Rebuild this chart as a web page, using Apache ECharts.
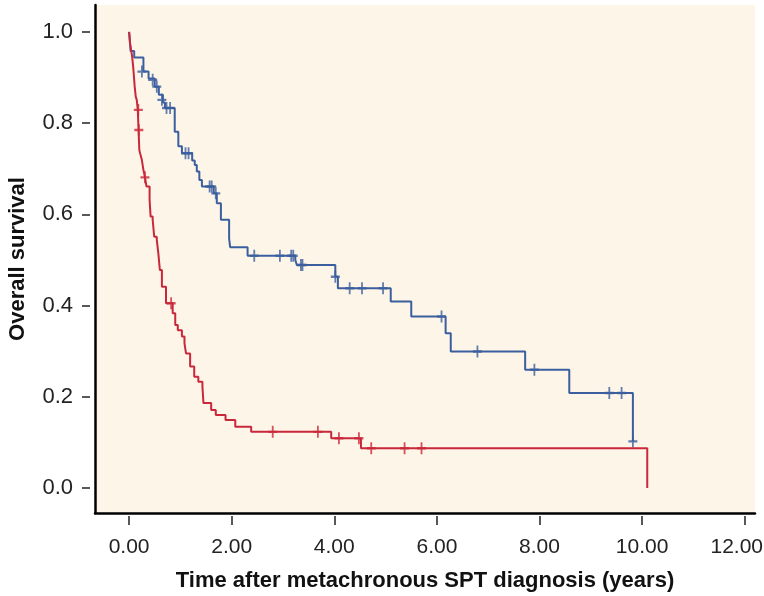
<!DOCTYPE html>
<html>
<head>
<meta charset="utf-8">
<script src="https://cdn.jsdelivr.net/npm/echarts@6/dist/echarts.min.js"></script>
<style>
html,body{margin:0;padding:0;background:#fff;}
#EchartBox{width:764px;height:596px;}
</style>
</head>
<body>
<div id="EchartBox"></div>
<script>
// tick values of the two axes
var xTicks = [0, 2, 4, 6, 8, 10, 12];
var yTicks = [0, 0.2, 0.4, 0.6, 0.8, 1.0];

// blue group: [time, survival after the drop]
var blueSteps = [
	[0, 1], [0.03, 0.958], [0.10, 0.944], [0.28, 0.913], [0.38, 0.898], [0.50, 0.880],
	[0.58, 0.862], [0.66, 0.845], [0.70, 0.833], [0.89, 0.781], [0.96, 0.749], [1.03, 0.734],
	[1.23, 0.718], [1.28, 0.708], [1.32, 0.694], [1.37, 0.675], [1.42, 0.661], [1.65, 0.646],
	[1.71, 0.624], [1.79, 0.588], [1.95, 0.547], [1.97, 0.528], [2.31, 0.509], [3.24, 0.500],
	[3.27, 0.489], [4.02, 0.463], [4.07, 0.438], [5.10, 0.409], [5.50, 0.376], [6.17, 0.339],
	[6.27, 0.299], [7.72, 0.259], [8.58, 0.208], [9.82, 0.102]
];
var blueCensor = [
	[0.25, 0.913], [0.46, 0.895], [0.54, 0.880], [0.64, 0.851], [0.73, 0.833], [0.80, 0.833],
	[1.10, 0.734], [1.16, 0.734], [1.57, 0.661], [1.61, 0.661], [1.69, 0.646], [2.44, 0.509],
	[2.94, 0.509], [3.16, 0.509], [3.20, 0.509], [3.35, 0.489], [3.38, 0.489], [4.02, 0.463],
	[4.30, 0.438], [4.54, 0.438], [4.95, 0.438], [6.09, 0.376], [6.79, 0.299], [7.90, 0.259],
	[9.36, 0.208], [9.60, 0.208], [9.82, 0.102]
];

// red group
var redSteps = [
	[0, 1], [0.01, 0.990], [0.02, 0.975], [0.035, 0.964], [0.06, 0.946], [0.08, 0.924],
	[0.09, 0.909], [0.11, 0.880], [0.13, 0.858], [0.15, 0.851], [0.17, 0.829], [0.185, 0.785],
	[0.20, 0.741], [0.215, 0.734], [0.25, 0.719], [0.28, 0.697], [0.31, 0.681], [0.34, 0.661],
	[0.40, 0.632], [0.42, 0.595], [0.46, 0.588], [0.49, 0.551], [0.54, 0.544], [0.57, 0.515],
	[0.60, 0.478], [0.64, 0.441], [0.72, 0.405], [0.85, 0.383], [0.90, 0.357], [0.95, 0.346],
	[1.03, 0.332], [1.08, 0.317], [1.11, 0.295], [1.19, 0.266], [1.27, 0.244], [1.35, 0.233],
	[1.43, 0.222], [1.45, 0.186], [1.60, 0.171], [1.69, 0.160], [1.88, 0.149], [2.07, 0.134],
	[2.38, 0.123], [3.94, 0.109], [4.52, 0.087], [10.10, 0.0]
];
var redCensor = [
	[0.18, 0.829], [0.19, 0.785], [0.31, 0.681], [0.82, 0.405], [2.80, 0.123], [3.68, 0.123],
	[4.09, 0.109], [4.48, 0.109], [4.72, 0.087], [5.37, 0.087], [5.70, 0.087]
];

var blueColor = '#3b5f9e';
var redColor = '#c9283b';
var plusSymbol = 'path://M4,0 H6 V4 H10 V6 H6 V10 H4 V6 H0 V4 H4 Z';
var fontFam = '"Liberation Sans", Arial, Helvetica, sans-serif';
var xMin = -0.664, xMax = 12.2;
var yMin = -0.055, yMax = 1.059;

var myChart = echarts.init(document.getElementById('EchartBox'));

var option = {
	backgroundColor: '#fff',
	animation: false,
	grid: {
		left: 95, right: 9, top: 5, bottom: 83,
		outerBoundsMode: 'none', containLabel: false,
		show: true, backgroundColor: '#fdf5e8', borderWidth: 0
	},
	xAxis: [
		{
			type: 'value', min: xMin, max: xMax,
			axisLine: {show: true, onZero: false, lineStyle: {color: '#000', width: 2.5}},
			axisTick: {show: false}, axisLabel: {show: false}, splitLine: {show: false}
		},
		{
			type: 'value', min: xMin, max: xMax, position: 'bottom', offset: 3,
			axisLine: {show: false, onZero: false},
			axisTick: {show: true, customValues: xTicks, length: 9, lineStyle: {color: '#222', width: 1.5}},
			axisLabel: {
				customValues: xTicks, margin: 21, color: '#222', fontSize: 21, fontFamily: fontFam,
				formatter: function(v) {
					// last label is kept inside the page, as in the original
					if (v == 12) { return '{last|' + v.toFixed(2) + '}'; }
					return v.toFixed(2);
				},
				rich: {
					last: {color: '#222', fontSize: 21, fontFamily: fontFam, padding: [0, 16, 0, 0]}
				}
			},
			splitLine: {show: false},
			name: 'Time after metachronous SPT diagnosis (years)',
			nameLocation: 'middle', nameGap: 54,
			nameTextStyle: {color: '#111', fontSize: 22, fontWeight: 'bold', fontFamily: fontFam}
		}
	],
	yAxis: [
		{
			type: 'value', min: yMin, max: yMax,
			axisLine: {show: true, onZero: false, lineStyle: {color: '#000', width: 2.5}},
			axisTick: {show: false}, axisLabel: {show: false}, splitLine: {show: false}
		},
		{
			type: 'value', min: yMin, max: yMax, position: 'left', offset: 5,
			axisLine: {show: false, onZero: false},
			axisTick: {show: true, customValues: yTicks, length: 8, lineStyle: {color: '#222', width: 1.5}},
			axisLabel: {
				customValues: yTicks, margin: 17, color: '#222', fontSize: 22, fontFamily: fontFam,
				formatter: function(v) { return v.toFixed(1); }
			},
			splitLine: {show: false},
			name: 'Overall survival',
			nameLocation: 'middle', nameGap: 61,
			nameTextStyle: {color: '#111', fontSize: 22, fontWeight: 'bold', fontFamily: fontFam}
		}
	],
	series: [
		{
			name: 'blue', type: 'line', step: 'end', data: blueSteps,
			xAxisIndex: 0, yAxisIndex: 0, symbol: 'none',
			lineStyle: {color: blueColor, width: 2}
		},
		{
			name: 'red', type: 'line', step: 'end', data: redSteps,
			xAxisIndex: 0, yAxisIndex: 0, symbol: 'none',
			lineStyle: {color: redColor, width: 2}
		},
		{
			name: 'blueCensor', type: 'scatter', data: blueCensor,
			xAxisIndex: 0, yAxisIndex: 0, symbol: plusSymbol, symbolSize: [9, 12],
			itemStyle: {color: blueColor}
		},
		{
			name: 'redCensor', type: 'scatter', data: redCensor,
			xAxisIndex: 0, yAxisIndex: 0, symbol: plusSymbol, symbolSize: [9, 12],
			itemStyle: {color: redColor}
		}
	]
};

myChart.setOption(option);
</script>
</body>
</html>
